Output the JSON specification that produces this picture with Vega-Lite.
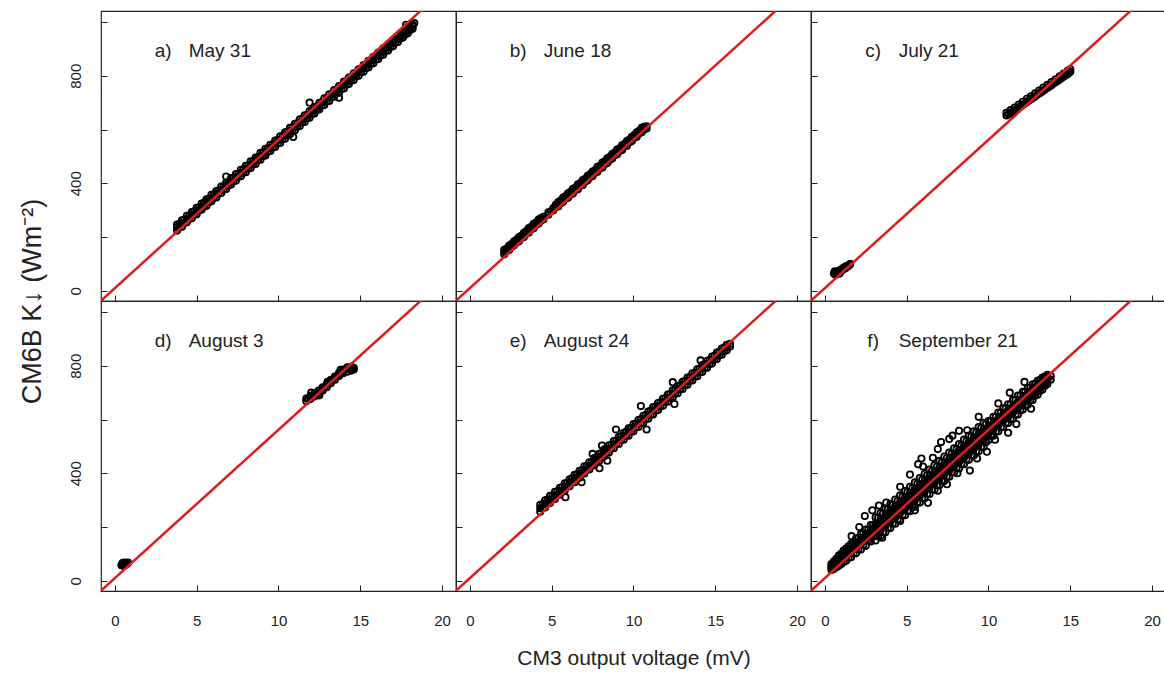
{
"$schema": "https://vega.github.io/schema/vega-lite/v6.json",
"padding": {"left": 17, "top": 10, "right": 0, "bottom": 0},
"background": "white",
"config": {
  "view": {"stroke": "#222", "strokeWidth": 1.2},
  "font": "Liberation Sans",
  "axis": {"domain": false, "grid": false, "tickSize": -6, "tickColor": "#222", "tickWidth": 1, "labelColor": "#222", "labelFont": "Liberation Sans", "labelFlush": false, "labelOverlap": false, "titleColor": "#222", "titleFontWeight": "normal"},
  "point": {"shape": "circle", "filled": false, "size": 40, "strokeWidth": 1.8, "color": "black", "opacity": 1},
  "text": {"baseline": "middle", "fontSize": 19, "color": "#222"}
},
"datasets": {
  "fit": [{"x": -1, "y": -45.2}, {"x": 21, "y": 1169.2}],
  "lab": [{"p": "a", "k": "a)", "t": "May 31"}, {"p": "b", "k": "b)", "t": "June 18"}, {"p": "c", "k": "c)", "t": "July 21"}, {"p": "d", "k": "d)", "t": "August 3"}, {"p": "e", "k": "e)", "t": "August 24"}, {"p": "f", "k": "f)", "t": "September 21"}],
  "a": [
{"x":3.8,"y":224},{"x":3.8,"y":236},{"x":3.8,"y":246},
{"x":4.1,"y":238},{"x":4.1,"y":251},{"x":4.1,"y":262},
{"x":4.4,"y":255},{"x":4.4,"y":266},{"x":4.4,"y":279},
{"x":4.7,"y":270},{"x":4.7,"y":283},{"x":4.7,"y":293},
{"x":5.0,"y":285},{"x":5.0,"y":297},{"x":5.0,"y":309},
{"x":5.3,"y":302},{"x":5.3,"y":312},{"x":5.3,"y":325},
{"x":5.6,"y":316},{"x":5.6,"y":330},{"x":5.6,"y":340},
{"x":5.9,"y":333},{"x":5.9,"y":344},{"x":5.9,"y":357},
{"x":6.2,"y":347},{"x":6.2,"y":361},{"x":6.2,"y":371},
{"x":6.5,"y":364},{"x":6.5,"y":375},{"x":6.5,"y":388},
{"x":6.8,"y":379},{"x":6.8,"y":392},{"x":6.8,"y":402},
{"x":7.1,"y":395},{"x":7.1,"y":406},{"x":7.1,"y":419},
{"x":7.4,"y":410},{"x":7.4,"y":423},{"x":7.4,"y":434},
{"x":7.7,"y":426},{"x":7.7,"y":437},{"x":7.7,"y":450},
{"x":8.0,"y":441},{"x":8.0,"y":454},{"x":8.0,"y":465},
{"x":8.3,"y":457},{"x":8.3,"y":469},{"x":8.3,"y":482},
{"x":8.6,"y":472},{"x":8.6,"y":485},{"x":8.6,"y":496},
{"x":8.9,"y":488},{"x":8.9,"y":500},{"x":8.9,"y":513},
{"x":9.2,"y":503},{"x":9.2,"y":516},{"x":9.2,"y":528},
{"x":9.5,"y":520},{"x":9.5,"y":531},{"x":9.5,"y":543},
{"x":9.8,"y":535},{"x":9.8,"y":548},{"x":9.8,"y":559},
{"x":10.1,"y":550},{"x":10.1,"y":562},{"x":10.1,"y":575},
{"x":10.4,"y":566},{"x":10.4,"y":579},{"x":10.4,"y":590},
{"x":10.7,"y":582},{"x":10.7,"y":594},{"x":10.7,"y":606},
{"x":11.0,"y":597},{"x":11.0,"y":610},{"x":11.0,"y":621},
{"x":11.3,"y":613},{"x":11.3,"y":625},{"x":11.3,"y":638},
{"x":11.6,"y":628},{"x":11.6,"y":641},{"x":11.6,"y":653},
{"x":11.9,"y":644},{"x":11.9,"y":656},{"x":11.9,"y":669},
{"x":12.2,"y":660},{"x":12.2,"y":672},{"x":12.2,"y":684},
{"x":12.5,"y":675},{"x":12.5,"y":688},{"x":12.5,"y":699},
{"x":12.8,"y":691},{"x":12.8,"y":703},{"x":12.8,"y":716},
{"x":13.1,"y":706},{"x":13.1,"y":719},{"x":13.1,"y":731},
{"x":13.4,"y":722},{"x":13.4,"y":734},{"x":13.4,"y":747},
{"x":13.7,"y":737},{"x":13.7,"y":750},{"x":13.7,"y":762},
{"x":14.0,"y":753},{"x":14.0,"y":766},{"x":14.0,"y":778},
{"x":14.3,"y":769},{"x":14.3,"y":781},{"x":14.3,"y":793},
{"x":14.6,"y":784},{"x":14.6,"y":797},{"x":14.6,"y":809},
{"x":14.9,"y":800},{"x":14.9,"y":812},{"x":14.9,"y":824},
{"x":15.2,"y":815},{"x":15.2,"y":828},{"x":15.2,"y":840},
{"x":15.5,"y":831},{"x":15.5,"y":843},{"x":15.5,"y":856},
{"x":15.8,"y":847},{"x":15.8,"y":859},{"x":15.8,"y":871},
{"x":16.1,"y":862},{"x":16.1,"y":875},{"x":16.1,"y":886},
{"x":16.4,"y":878},{"x":16.4,"y":890},{"x":16.4,"y":902},
{"x":16.7,"y":894},{"x":16.7,"y":906},{"x":16.7,"y":917},
{"x":17.0,"y":910},{"x":17.0,"y":921},{"x":17.0,"y":932},
{"x":17.3,"y":926},{"x":17.3,"y":937},{"x":17.3,"y":947},
{"x":17.6,"y":942},{"x":17.6,"y":953},{"x":17.6,"y":962},
{"x":17.9,"y":958},{"x":17.9,"y":968},{"x":17.9,"y":977},
{"x":18.2,"y":975},{"x":18.2,"y":984},{"x":18.2,"y":991},
{"x":3.95,"y":237},{"x":3.95,"y":249},{"x":4.25,"y":252},{"x":4.25,"y":265},{"x":4.55,"y":268},{"x":4.55,"y":280},
{"x":4.85,"y":283},{"x":4.85,"y":296},{"x":5.15,"y":299},{"x":5.15,"y":311},{"x":5.45,"y":314},{"x":5.45,"y":327},
{"x":5.75,"y":330},{"x":5.75,"y":342},{"x":6.05,"y":346},{"x":6.05,"y":358},{"x":6.35,"y":361},{"x":6.35,"y":374},
{"x":6.65,"y":377},{"x":6.65,"y":389},{"x":6.95,"y":393},{"x":6.95,"y":405},{"x":7.25,"y":408},{"x":7.25,"y":420},
{"x":7.55,"y":424},{"x":7.55,"y":436},{"x":7.85,"y":439},{"x":7.85,"y":452},{"x":8.15,"y":455},{"x":8.15,"y":467},
{"x":8.45,"y":471},{"x":8.45,"y":483},{"x":8.75,"y":486},{"x":8.75,"y":498},{"x":9.05,"y":502},{"x":9.05,"y":514},
{"x":9.35,"y":517},{"x":9.35,"y":530},{"x":9.65,"y":533},{"x":9.65,"y":545},{"x":9.95,"y":549},{"x":9.95,"y":561},
{"x":10.25,"y":564},{"x":10.25,"y":576},{"x":10.55,"y":580},{"x":10.55,"y":592},{"x":10.85,"y":595},{"x":10.85,"y":608},
{"x":11.15,"y":611},{"x":11.15,"y":623},{"x":11.45,"y":627},{"x":11.45,"y":639},{"x":11.75,"y":642},{"x":11.75,"y":654},
{"x":12.05,"y":658},{"x":12.05,"y":670},{"x":12.35,"y":673},{"x":12.35,"y":686},{"x":12.65,"y":689},{"x":12.65,"y":701},
{"x":12.95,"y":705},{"x":12.95,"y":717},{"x":13.25,"y":720},{"x":13.25,"y":732},{"x":13.55,"y":736},{"x":13.55,"y":748},
{"x":13.85,"y":751},{"x":13.85,"y":764},{"x":14.15,"y":767},{"x":14.15,"y":779},{"x":14.45,"y":783},{"x":14.45,"y":795},
{"x":14.75,"y":798},{"x":14.75,"y":810},{"x":15.05,"y":814},{"x":15.05,"y":826},{"x":15.35,"y":829},{"x":15.35,"y":842},
{"x":15.65,"y":845},{"x":15.65,"y":857},{"x":15.95,"y":861},{"x":15.95,"y":873},{"x":16.25,"y":876},{"x":16.25,"y":888},
{"x":16.55,"y":892},{"x":16.55,"y":904},{"x":16.85,"y":907},{"x":16.85,"y":919},{"x":17.15,"y":923},{"x":17.15,"y":935},
{"x":17.45,"y":939},{"x":17.45,"y":950},{"x":17.75,"y":954},{"x":17.75,"y":965},{"x":18.05,"y":970},{"x":18.05,"y":980},
{"x":6.8,"y":425},{"x":11.9,"y":700},{"x":13.7,"y":718},{"x":10.9,"y":572},{"x":17.8,"y":990},{"x":18.3,"y":996}
  ],
  "b": [
{"x":2.1,"y":136},{"x":2.1,"y":144},{"x":2.1,"y":152},
{"x":2.4,"y":152},{"x":2.4,"y":161},{"x":2.4,"y":168},
{"x":2.7,"y":169},{"x":2.7,"y":177},{"x":2.7,"y":184},
{"x":3.0,"y":184},{"x":3.0,"y":193},{"x":3.0,"y":200},
{"x":3.3,"y":200},{"x":3.3,"y":208},{"x":3.3,"y":216},
{"x":3.6,"y":217},{"x":3.6,"y":226},{"x":3.6,"y":233},
{"x":3.9,"y":233},{"x":3.9,"y":241},{"x":3.9,"y":249},
{"x":4.2,"y":250},{"x":4.2,"y":258},{"x":4.2,"y":265},
{"x":4.5,"y":266},{"x":4.5,"y":275},
{"x":4.8,"y":283},{"x":4.8,"y":292},
{"x":5.1,"y":300},{"x":5.1,"y":308},
{"x":5.4,"y":314},{"x":5.4,"y":323},{"x":5.4,"y":330},
{"x":5.7,"y":331},{"x":5.7,"y":339},{"x":5.7,"y":347},
{"x":6.0,"y":346},{"x":6.0,"y":355},{"x":6.0,"y":363},
{"x":6.3,"y":362},{"x":6.3,"y":371},{"x":6.3,"y":379},
{"x":6.6,"y":378},{"x":6.6,"y":388},{"x":6.6,"y":396},
{"x":6.9,"y":394},{"x":6.9,"y":404},{"x":6.9,"y":412},
{"x":7.2,"y":411},{"x":7.2,"y":420},{"x":7.2,"y":428},
{"x":7.5,"y":427},{"x":7.5,"y":436},{"x":7.5,"y":444},
{"x":7.8,"y":443},{"x":7.8,"y":452},{"x":7.8,"y":461},
{"x":8.1,"y":459},{"x":8.1,"y":469},{"x":8.1,"y":477},
{"x":8.4,"y":475},{"x":8.4,"y":485},{"x":8.4,"y":493},
{"x":8.7,"y":492},{"x":8.7,"y":501},{"x":8.7,"y":509},
{"x":9.0,"y":508},{"x":9.0,"y":517},{"x":9.0,"y":525},
{"x":9.3,"y":524},{"x":9.3,"y":533},{"x":9.3,"y":541},
{"x":9.6,"y":540},{"x":9.6,"y":550},{"x":9.6,"y":557},
{"x":9.9,"y":557},{"x":9.9,"y":566},{"x":9.9,"y":573},
{"x":10.2,"y":573},{"x":10.2,"y":582},{"x":10.2,"y":590},
{"x":10.5,"y":590},{"x":10.5,"y":598},{"x":10.5,"y":606},
{"x":10.8,"y":604},{"x":10.8,"y":612},
{"x":2.25,"y":148},{"x":2.25,"y":157},{"x":2.55,"y":164},{"x":2.55,"y":174},{"x":2.85,"y":180},{"x":2.85,"y":190},
{"x":3.15,"y":196},{"x":3.15,"y":205},{"x":3.45,"y":212},{"x":3.45,"y":222},{"x":3.75,"y":229},{"x":3.75,"y":238},
{"x":4.05,"y":245},{"x":4.05,"y":254},{"x":4.35,"y":261},{"x":4.35,"y":271},{"x":4.95,"y":296},
{"x":5.25,"y":311},{"x":5.25,"y":320},{"x":5.55,"y":326},{"x":5.55,"y":336},{"x":5.85,"y":342},{"x":5.85,"y":352},
{"x":6.15,"y":358},{"x":6.15,"y":368},{"x":6.45,"y":375},{"x":6.45,"y":384},{"x":6.75,"y":391},{"x":6.75,"y":401},
{"x":7.05,"y":407},{"x":7.05,"y":417},{"x":7.35,"y":423},{"x":7.35,"y":433},{"x":7.65,"y":439},{"x":7.65,"y":449},
{"x":7.95,"y":456},{"x":7.95,"y":465},{"x":8.25,"y":472},{"x":8.25,"y":482},{"x":8.55,"y":488},{"x":8.55,"y":498},
{"x":8.85,"y":504},{"x":8.85,"y":514},{"x":9.15,"y":520},{"x":9.15,"y":530},{"x":9.45,"y":537},{"x":9.45,"y":546},
{"x":9.75,"y":553},{"x":9.75,"y":563},{"x":10.05,"y":569},{"x":10.05,"y":579},{"x":10.35,"y":585},{"x":10.35,"y":595},
{"x":10.65,"y":600},{"x":10.65,"y":610}
  ],
  "c": [
{"x":0.55,"y":64},{"x":0.65,"y":60},{"x":0.7,"y":70},{"x":0.8,"y":66},{"x":0.85,"y":74},{"x":0.95,"y":72},{"x":1.0,"y":80},{"x":1.1,"y":78},{"x":1.15,"y":86},{"x":1.25,"y":84},{"x":1.3,"y":92},{"x":1.4,"y":90},{"x":1.5,"y":96},{"x":1.55,"y":100},{"x":0.6,"y":72},{"x":0.9,"y":64},
{"x":11.1,"y":652},{"x":11.1,"y":662},
{"x":11.35,"y":661},{"x":11.35,"y":672},
{"x":11.6,"y":671},{"x":11.6,"y":682},
{"x":11.85,"y":681},{"x":11.85,"y":693},
{"x":12.1,"y":692},{"x":12.1,"y":703},
{"x":12.35,"y":702},{"x":12.35,"y":714},
{"x":12.6,"y":713},{"x":12.6,"y":724},
{"x":12.85,"y":723},{"x":12.85,"y":735},
{"x":13.1,"y":734},{"x":13.1,"y":745},
{"x":13.35,"y":744},{"x":13.35,"y":756},
{"x":13.6,"y":755},{"x":13.6,"y":766},
{"x":13.85,"y":765},{"x":13.85,"y":777},
{"x":14.1,"y":776},{"x":14.1,"y":787},
{"x":14.35,"y":786},{"x":14.35,"y":798},
{"x":14.6,"y":797},{"x":14.6,"y":808},
{"x":14.85,"y":807},{"x":14.85,"y":819},
{"x":15.0,"y":815},{"x":15.0,"y":824},
{"x":11.22,"y":657},{"x":11.47,"y":666},{"x":11.72,"y":676},{"x":11.97,"y":687},{"x":12.22,"y":697},{"x":12.47,"y":708},{"x":12.72,"y":718},{"x":12.97,"y":729},{"x":13.22,"y":739},{"x":13.47,"y":750},{"x":13.72,"y":760},{"x":13.97,"y":771},{"x":14.22,"y":781},{"x":14.47,"y":792},{"x":14.72,"y":802},{"x":14.92,"y":812}
  ],
  "d": [
{"x":0.4,"y":58},{"x":0.45,"y":64},{"x":0.5,"y":56},{"x":0.55,"y":62},{"x":0.6,"y":68},{"x":0.65,"y":60},{"x":0.7,"y":66},{"x":0.75,"y":63},{"x":0.5,"y":67},{"x":0.8,"y":68},
{"x":11.7,"y":668},{"x":11.7,"y":678},
{"x":11.95,"y":676},{"x":11.95,"y":688},
{"x":12.2,"y":686},{"x":12.2,"y":698},
{"x":12.45,"y":696},{"x":12.45,"y":708},
{"x":12.7,"y":708},{"x":12.7,"y":720},
{"x":12.95,"y":720},{"x":12.95,"y":732},
{"x":13.2,"y":735},{"x":13.2,"y":748},
{"x":13.45,"y":748},{"x":13.45,"y":760},
{"x":13.7,"y":762},{"x":13.7,"y":774},
{"x":13.95,"y":772},{"x":13.95,"y":786},
{"x":14.2,"y":778},{"x":14.2,"y":794},
{"x":14.45,"y":782},{"x":14.45,"y":796},
{"x":14.6,"y":786},{"x":14.6,"y":792},
{"x":11.82,"y":677},{"x":12.07,"y":687},{"x":12.32,"y":697},{"x":12.57,"y":708},{"x":12.82,"y":720},{"x":13.07,"y":733},{"x":13.32,"y":748},{"x":13.57,"y":761},{"x":13.82,"y":775},{"x":14.07,"y":785},{"x":14.32,"y":790},{"x":14.52,"y":791},
{"x":12.0,"y":700},{"x":12.5,"y":690},{"x":13.0,"y":740},{"x":13.8,"y":785}
  ],
  "e": [
{"x":4.3,"y":257},{"x":4.3,"y":270},{"x":4.3,"y":283},
{"x":4.6,"y":273},{"x":4.6,"y":287},{"x":4.6,"y":299},
{"x":4.9,"y":289},{"x":4.9,"y":302},{"x":4.9,"y":316},
{"x":5.2,"y":304},{"x":5.2,"y":318},{"x":5.2,"y":331},
{"x":5.5,"y":320},{"x":5.5,"y":334},{"x":5.5,"y":346},
{"x":5.8,"y":336},{"x":5.8,"y":350},{"x":5.8,"y":363},
{"x":6.1,"y":352},{"x":6.1,"y":366},{"x":6.1,"y":378},
{"x":6.4,"y":367},{"x":6.4,"y":381},{"x":6.4,"y":394},
{"x":6.7,"y":383},{"x":6.7,"y":397},{"x":6.7,"y":409},
{"x":7.0,"y":399},{"x":7.0,"y":413},{"x":7.0,"y":426},
{"x":7.3,"y":414},{"x":7.3,"y":428},{"x":7.3,"y":441},
{"x":7.6,"y":430},{"x":7.6,"y":444},{"x":7.6,"y":457},
{"x":7.9,"y":446},{"x":7.9,"y":460},{"x":7.9,"y":472},
{"x":8.2,"y":462},{"x":8.2,"y":476},{"x":8.2,"y":488},
{"x":8.5,"y":477},{"x":8.5,"y":491},{"x":8.5,"y":504},
{"x":8.8,"y":493},{"x":8.8,"y":507},{"x":8.8,"y":520},
{"x":9.1,"y":509},{"x":9.1,"y":523},{"x":9.1,"y":535},
{"x":9.4,"y":525},{"x":9.4,"y":539},{"x":9.4,"y":551},
{"x":9.7,"y":540},{"x":9.7,"y":554},{"x":9.7,"y":567},
{"x":10.0,"y":556},{"x":10.0,"y":570},{"x":10.0,"y":583},
{"x":10.3,"y":572},{"x":10.3,"y":586},{"x":10.3,"y":598},
{"x":10.6,"y":588},{"x":10.6,"y":602},{"x":10.6,"y":614},
{"x":10.9,"y":603},{"x":10.9,"y":617},{"x":10.9,"y":630},
{"x":11.2,"y":619},{"x":11.2,"y":633},{"x":11.2,"y":646},
{"x":11.5,"y":635},{"x":11.5,"y":649},{"x":11.5,"y":661},
{"x":11.8,"y":651},{"x":11.8,"y":665},{"x":11.8,"y":677},
{"x":12.1,"y":666},{"x":12.1,"y":680},{"x":12.1,"y":693},
{"x":12.4,"y":682},{"x":12.4,"y":696},{"x":12.4,"y":709},
{"x":12.7,"y":698},{"x":12.7,"y":712},{"x":12.7,"y":724},
{"x":13.0,"y":714},{"x":13.0,"y":728},{"x":13.0,"y":740},
{"x":13.3,"y":729},{"x":13.3,"y":743},{"x":13.3,"y":756},
{"x":13.6,"y":745},{"x":13.6,"y":759},{"x":13.6,"y":772},
{"x":13.9,"y":761},{"x":13.9,"y":775},{"x":13.9,"y":787},
{"x":14.2,"y":777},{"x":14.2,"y":791},{"x":14.2,"y":803},
{"x":14.5,"y":793},{"x":14.5,"y":806},{"x":14.5,"y":818},
{"x":14.8,"y":808},{"x":14.8,"y":822},{"x":14.8,"y":834},
{"x":15.1,"y":825},{"x":15.1,"y":838},{"x":15.1,"y":849},
{"x":15.4,"y":841},{"x":15.4,"y":853},{"x":15.4,"y":864},
{"x":15.7,"y":858},{"x":15.7,"y":869},{"x":15.7,"y":878},
{"x":15.9,"y":872},{"x":15.9,"y":882},
{"x":4.45,"y":271},{"x":4.45,"y":285},{"x":4.75,"y":288},{"x":4.75,"y":302},{"x":5.05,"y":303},{"x":5.05,"y":317},
{"x":5.35,"y":319},{"x":5.35,"y":333},{"x":5.65,"y":335},{"x":5.65,"y":349},{"x":5.95,"y":351},{"x":5.95,"y":365},
{"x":6.25,"y":367},{"x":6.25,"y":381},{"x":6.55,"y":382},{"x":6.55,"y":396},{"x":6.85,"y":398},{"x":6.85,"y":412},
{"x":7.15,"y":414},{"x":7.15,"y":428},{"x":7.45,"y":429},{"x":7.45,"y":443},{"x":7.75,"y":445},{"x":7.75,"y":459},
{"x":8.05,"y":461},{"x":8.05,"y":475},{"x":8.35,"y":477},{"x":8.35,"y":491},{"x":8.65,"y":492},{"x":8.65,"y":506},
{"x":8.95,"y":508},{"x":8.95,"y":522},{"x":9.25,"y":524},{"x":9.25,"y":538},{"x":9.55,"y":540},{"x":9.55,"y":554},
{"x":9.85,"y":555},{"x":9.85,"y":569},{"x":10.15,"y":571},{"x":10.15,"y":585},{"x":10.45,"y":587},{"x":10.45,"y":601},
{"x":10.75,"y":603},{"x":10.75,"y":617},{"x":11.05,"y":618},{"x":11.05,"y":632},{"x":11.35,"y":634},{"x":11.35,"y":648},
{"x":11.65,"y":650},{"x":11.65,"y":664},{"x":11.95,"y":666},{"x":11.95,"y":680},{"x":12.25,"y":681},{"x":12.25,"y":695},
{"x":12.55,"y":697},{"x":12.55,"y":711},{"x":12.85,"y":713},{"x":12.85,"y":727},{"x":13.15,"y":729},{"x":13.15,"y":743},
{"x":13.45,"y":744},{"x":13.45,"y":758},{"x":13.75,"y":760},{"x":13.75,"y":774},{"x":14.05,"y":776},{"x":14.05,"y":790},
{"x":14.35,"y":792},{"x":14.35,"y":806},{"x":14.65,"y":807},{"x":14.65,"y":821},{"x":14.95,"y":823},{"x":14.95,"y":837},
{"x":15.25,"y":839},{"x":15.25,"y":853},{"x":15.55,"y":854},{"x":15.55,"y":868},
{"x":5.84,"y":311},{"x":6.83,"y":367},{"x":7.92,"y":419},{"x":8.07,"y":503},{"x":8.93,"y":563},{"x":10.8,"y":563},{"x":10.45,"y":650},{"x":12.5,"y":658},{"x":12.4,"y":739},{"x":14.1,"y":820},{"x":8.4,"y":447},{"x":7.5,"y":472}
  ],
  "f": [
{"x":0.4,"y":40},{"x":0.4,"y":48},{"x":0.4,"y":56},{"x":0.4,"y":62},
{"x":0.7,"y":50},{"x":0.7,"y":61},{"x":0.7,"y":72},{"x":0.7,"y":82},
{"x":1.0,"y":62},{"x":1.0,"y":76},{"x":1.0,"y":89},{"x":1.0,"y":101},
{"x":1.3,"y":75},{"x":1.3,"y":91},{"x":1.3,"y":105},{"x":1.3,"y":120},
{"x":1.6,"y":88},{"x":1.6,"y":106},{"x":1.6,"y":121},{"x":1.6,"y":138},
{"x":1.9,"y":102},{"x":1.9,"y":121},{"x":1.9,"y":138},{"x":1.9,"y":157},
{"x":2.2,"y":116},{"x":2.2,"y":136},{"x":2.2,"y":154},{"x":2.2,"y":174},
{"x":2.5,"y":130},{"x":2.5,"y":151},{"x":2.5,"y":170},{"x":2.5,"y":191},
{"x":2.8,"y":146},{"x":2.8,"y":166},{"x":2.8,"y":187},{"x":2.8,"y":207},
{"x":1.0,"y":83},{"x":1.3,"y":98},{"x":1.6,"y":114},{"x":1.9,"y":130},{"x":2.2,"y":145},{"x":2.5,"y":161},{"x":2.8,"y":177},
{"x":3.1,"y":150},{"x":3.1,"y":172},{"x":3.1,"y":193},{"x":3.1,"y":213},{"x":3.1,"y":236},
{"x":3.4,"y":166},{"x":3.4,"y":188},{"x":3.4,"y":209},{"x":3.4,"y":229},{"x":3.4,"y":252},
{"x":3.7,"y":181},{"x":3.7,"y":204},{"x":3.7,"y":225},{"x":3.7,"y":246},{"x":3.7,"y":268},
{"x":4.0,"y":196},{"x":4.0,"y":220},{"x":4.0,"y":241},{"x":4.0,"y":262},{"x":4.0,"y":286},
{"x":4.3,"y":212},{"x":4.3,"y":236},{"x":4.3,"y":257},{"x":4.3,"y":278},{"x":4.3,"y":302},
{"x":4.6,"y":228},{"x":4.6,"y":252},{"x":4.6,"y":273},{"x":4.6,"y":294},{"x":4.6,"y":318},
{"x":4.9,"y":244},{"x":4.9,"y":268},{"x":4.9,"y":289},{"x":4.9,"y":310},{"x":4.9,"y":334},
{"x":5.2,"y":259},{"x":5.2,"y":283},{"x":5.2,"y":304},{"x":5.2,"y":326},{"x":5.2,"y":350},
{"x":5.5,"y":275},{"x":5.5,"y":299},{"x":5.5,"y":320},{"x":5.5,"y":342},{"x":5.5,"y":366},
{"x":5.8,"y":291},{"x":5.8,"y":315},{"x":5.8,"y":336},{"x":5.8,"y":358},{"x":5.8,"y":382},
{"x":6.1,"y":307},{"x":6.1,"y":331},{"x":6.1,"y":352},{"x":6.1,"y":374},{"x":6.1,"y":398},
{"x":6.4,"y":323},{"x":6.4,"y":347},{"x":6.4,"y":368},{"x":6.4,"y":390},{"x":6.4,"y":414},
{"x":6.7,"y":339},{"x":6.7,"y":363},{"x":6.7,"y":384},{"x":6.7,"y":406},{"x":6.7,"y":430},
{"x":7.0,"y":355},{"x":7.0,"y":379},{"x":7.0,"y":400},{"x":7.0,"y":421},{"x":7.0,"y":446},
{"x":7.3,"y":371},{"x":7.3,"y":395},{"x":7.3,"y":416},{"x":7.3,"y":437},{"x":7.3,"y":462},
{"x":7.6,"y":387},{"x":7.6,"y":411},{"x":7.6,"y":432},{"x":7.6,"y":453},{"x":7.6,"y":477},
{"x":7.9,"y":403},{"x":7.9,"y":427},{"x":7.9,"y":448},{"x":7.9,"y":469},{"x":7.9,"y":493},
{"x":8.2,"y":418},{"x":8.2,"y":442},{"x":8.2,"y":463},{"x":8.2,"y":485},{"x":8.2,"y":509},
{"x":8.5,"y":434},{"x":8.5,"y":458},{"x":8.5,"y":479},{"x":8.5,"y":501},{"x":8.5,"y":525},
{"x":8.8,"y":450},{"x":8.8,"y":474},{"x":8.8,"y":495},{"x":8.8,"y":517},{"x":8.8,"y":540},
{"x":9.1,"y":466},{"x":9.1,"y":490},{"x":9.1,"y":511},{"x":9.1,"y":532},{"x":9.1,"y":556},
{"x":9.4,"y":482},{"x":9.4,"y":506},{"x":9.4,"y":527},{"x":9.4,"y":548},{"x":9.4,"y":572},
{"x":9.7,"y":498},{"x":9.7,"y":522},{"x":9.7,"y":543},{"x":9.7,"y":564},{"x":9.7,"y":588},
{"x":3.1,"y":183},{"x":3.1,"y":203},{"x":3.4,"y":199},{"x":3.4,"y":219},{"x":3.7,"y":215},{"x":3.7,"y":235},
{"x":4.0,"y":231},{"x":4.0,"y":251},{"x":4.3,"y":247},{"x":4.3,"y":267},{"x":4.6,"y":263},{"x":4.6,"y":283},
{"x":4.9,"y":279},{"x":4.9,"y":299},{"x":5.2,"y":294},{"x":5.2,"y":314},{"x":5.5,"y":310},{"x":5.5,"y":330},
{"x":5.8,"y":326},{"x":5.8,"y":346},{"x":6.1,"y":342},{"x":6.1,"y":362},{"x":6.4,"y":358},{"x":6.4,"y":378},
{"x":6.7,"y":374},{"x":6.7,"y":394},{"x":7.0,"y":390},{"x":7.0,"y":410},{"x":7.3,"y":406},{"x":7.3,"y":426},
{"x":7.6,"y":422},{"x":7.6,"y":442},{"x":7.9,"y":438},{"x":7.9,"y":458},{"x":8.2,"y":453},{"x":8.2,"y":473},
{"x":8.5,"y":469},{"x":8.5,"y":489},{"x":8.8,"y":485},{"x":8.8,"y":505},{"x":9.1,"y":501},{"x":9.1,"y":521},
{"x":9.4,"y":517},{"x":9.4,"y":537},{"x":9.7,"y":533},{"x":9.7,"y":553},
{"x":10.0,"y":524},{"x":10.0,"y":547},{"x":10.0,"y":559},{"x":10.0,"y":571},{"x":10.0,"y":594},
{"x":10.3,"y":540},{"x":10.3,"y":563},{"x":10.3,"y":575},{"x":10.3,"y":587},{"x":10.3,"y":610},
{"x":10.6,"y":556},{"x":10.6,"y":579},{"x":10.6,"y":591},{"x":10.6,"y":603},{"x":10.6,"y":626},
{"x":10.9,"y":572},{"x":10.9,"y":595},{"x":10.9,"y":607},{"x":10.9,"y":619},{"x":10.9,"y":642},
{"x":11.2,"y":587},{"x":11.2,"y":610},{"x":11.2,"y":622},{"x":11.2,"y":634},{"x":11.2,"y":657},
{"x":11.5,"y":603},{"x":11.5,"y":626},{"x":11.5,"y":638},{"x":11.5,"y":650},{"x":11.5,"y":673},
{"x":11.8,"y":619},{"x":11.8,"y":642},{"x":11.8,"y":654},{"x":11.8,"y":666},{"x":11.8,"y":689},
{"x":12.1,"y":637},{"x":12.1,"y":658},{"x":12.1,"y":670},{"x":12.1,"y":682},{"x":12.1,"y":703},
{"x":12.4,"y":655},{"x":12.4,"y":674},{"x":12.4,"y":686},{"x":12.4,"y":698},{"x":12.4,"y":717},
{"x":12.7,"y":673},{"x":12.7,"y":690},{"x":12.7,"y":702},{"x":12.7,"y":714},{"x":12.7,"y":731},
{"x":13.0,"y":692},{"x":13.0,"y":707},{"x":13.0,"y":718},{"x":13.0,"y":729},{"x":13.0,"y":744},
{"x":13.3,"y":712},{"x":13.3,"y":724},{"x":13.3,"y":734},{"x":13.3,"y":744},{"x":13.3,"y":756},
{"x":13.6,"y":732},{"x":13.6,"y":743},{"x":13.6,"y":750},{"x":13.6,"y":757},{"x":13.6,"y":766},
{"x":13.8,"y":748},{"x":13.8,"y":762},
{"x":0.55,"y":44},{"x":0.55,"y":53},{"x":0.55,"y":64},{"x":0.55,"y":72},
{"x":0.85,"y":56},{"x":0.85,"y":69},{"x":0.85,"y":82},{"x":0.85,"y":94},
{"x":1.15,"y":70},{"x":1.15,"y":85},{"x":1.15,"y":98},{"x":1.15,"y":112},
{"x":1.45,"y":86},{"x":1.45,"y":101},{"x":1.45,"y":114},{"x":1.45,"y":128},
{"x":1.75,"y":102},{"x":1.75,"y":117},{"x":1.75,"y":130},{"x":1.75,"y":144},
{"x":2.05,"y":118},{"x":2.05,"y":133},{"x":2.05,"y":146},{"x":2.05,"y":160},
{"x":2.35,"y":133},{"x":2.35,"y":148},{"x":2.35,"y":161},{"x":2.35,"y":175},
{"x":2.65,"y":149},{"x":2.65,"y":164},{"x":2.65,"y":177},{"x":2.65,"y":191},
{"x":2.95,"y":165},{"x":2.95,"y":180},{"x":2.95,"y":193},{"x":2.95,"y":207},
{"x":3.25,"y":165},{"x":3.25,"y":188},{"x":3.25,"y":210},{"x":3.25,"y":234},
{"x":3.55,"y":181},{"x":3.55,"y":204},{"x":3.55,"y":226},{"x":3.55,"y":250},
{"x":3.85,"y":197},{"x":3.85,"y":220},{"x":3.85,"y":242},{"x":3.85,"y":266},
{"x":4.15,"y":213},{"x":4.15,"y":236},{"x":4.15,"y":258},{"x":4.15,"y":282},
{"x":4.45,"y":229},{"x":4.45,"y":252},{"x":4.45,"y":274},{"x":4.45,"y":298},
{"x":4.75,"y":245},{"x":4.75,"y":268},{"x":4.75,"y":290},{"x":4.75,"y":314},
{"x":5.05,"y":261},{"x":5.05,"y":284},{"x":5.05,"y":306},{"x":5.05,"y":330},
{"x":5.35,"y":276},{"x":5.35,"y":299},{"x":5.35,"y":321},{"x":5.35,"y":345},
{"x":5.65,"y":292},{"x":5.65,"y":315},{"x":5.65,"y":337},{"x":5.65,"y":361},
{"x":5.95,"y":308},{"x":5.95,"y":331},{"x":5.95,"y":353},{"x":5.95,"y":377},
{"x":6.25,"y":324},{"x":6.25,"y":347},{"x":6.25,"y":369},{"x":6.25,"y":393},
{"x":6.55,"y":340},{"x":6.55,"y":363},{"x":6.55,"y":385},{"x":6.55,"y":409},
{"x":6.85,"y":356},{"x":6.85,"y":379},{"x":6.85,"y":401},{"x":6.85,"y":425},
{"x":7.15,"y":372},{"x":7.15,"y":395},{"x":7.15,"y":417},{"x":7.15,"y":441},
{"x":7.45,"y":388},{"x":7.45,"y":411},{"x":7.45,"y":433},{"x":7.45,"y":457},
{"x":7.75,"y":404},{"x":7.75,"y":427},{"x":7.75,"y":449},{"x":7.75,"y":473},
{"x":8.05,"y":420},{"x":8.05,"y":443},{"x":8.05,"y":465},{"x":8.05,"y":489},
{"x":8.35,"y":435},{"x":8.35,"y":458},{"x":8.35,"y":480},{"x":8.35,"y":504},
{"x":8.65,"y":451},{"x":8.65,"y":474},{"x":8.65,"y":496},{"x":8.65,"y":520},
{"x":8.95,"y":467},{"x":8.95,"y":490},{"x":8.95,"y":512},{"x":8.95,"y":536},
{"x":9.25,"y":483},{"x":9.25,"y":506},{"x":9.25,"y":528},{"x":9.25,"y":552},
{"x":9.55,"y":499},{"x":9.55,"y":522},{"x":9.55,"y":544},{"x":9.55,"y":568},
{"x":9.85,"y":515},{"x":9.85,"y":538},{"x":9.85,"y":560},{"x":9.85,"y":584},
{"x":10.15,"y":539},{"x":10.15,"y":558},{"x":10.15,"y":577},{"x":10.15,"y":594},
{"x":10.45,"y":555},{"x":10.45,"y":574},{"x":10.45,"y":593},{"x":10.45,"y":610},
{"x":10.75,"y":571},{"x":10.75,"y":590},{"x":10.75,"y":609},{"x":10.75,"y":626},
{"x":11.05,"y":587},{"x":11.05,"y":606},{"x":11.05,"y":625},{"x":11.05,"y":642},
{"x":11.35,"y":602},{"x":11.35,"y":621},{"x":11.35,"y":640},{"x":11.35,"y":657},
{"x":11.65,"y":618},{"x":11.65,"y":637},{"x":11.65,"y":656},{"x":11.65,"y":673},
{"x":11.95,"y":634},{"x":11.95,"y":653},{"x":11.95,"y":672},{"x":11.95,"y":689},
{"x":12.25,"y":652},{"x":12.25,"y":669},{"x":12.25,"y":688},{"x":12.25,"y":703},
{"x":12.55,"y":670},{"x":12.55,"y":685},{"x":12.55,"y":704},{"x":12.55,"y":718},
{"x":12.85,"y":688},{"x":12.85,"y":701},{"x":12.85,"y":720},{"x":12.85,"y":733},
{"x":13.15,"y":706},{"x":13.15,"y":718},{"x":13.15,"y":735},{"x":13.15,"y":748},
{"x":13.45,"y":726},{"x":13.45,"y":736},{"x":13.45,"y":750},{"x":13.45,"y":760},
{"x":1.63,"y":166},{"x":2.44,"y":241},{"x":3.75,"y":291},{"x":5.7,"y":434},{"x":7.1,"y":516},{"x":8.2,"y":558},{"x":6.0,"y":425},{"x":6.6,"y":458},{"x":7.6,"y":528},{"x":8.7,"y":560},{"x":5.2,"y":395},{"x":4.6,"y":350},{"x":6.9,"y":490},{"x":9.4,"y":610},{"x":10.6,"y":660},{"x":11.3,"y":700},{"x":12.2,"y":740},{"x":2.9,"y":262},{"x":2.1,"y":200},{"x":3.3,"y":280},{"x":5.9,"y":455},{"x":7.8,"y":540},
{"x":8.86,"y":410},{"x":7.46,"y":359},{"x":4.6,"y":222},{"x":11.2,"y":551},{"x":11.7,"y":583},{"x":6.3,"y":290},{"x":9.9,"y":480},{"x":10.4,"y":525},{"x":5.5,"y":262},{"x":12.6,"y":640},{"x":3.5,"y":160},{"x":8.1,"y":400},{"x":9.3,"y":455},{"x":6.9,"y":335}
  ]
},
"columns": 3,
"spacing": 0,
"bounds": "flush",
"concat": [
  {
    "width": 355, "height": 290,
    "layer": [
      {"data": {"name": "a"}, "mark": "point", "encoding": {
        "x": {"field": "x", "type": "quantitative", "scale": {"domain": [-0.85, 20.85], "nice": false, "zero": false}, "axis": {"values": [0, 5, 10, 15, 20], "labels": false, "title": null}},
        "y": {"field": "y", "type": "quantitative", "scale": {"domain": [-38, 1041], "nice": false, "zero": false}, "axis": {"values": [0, 200, 400, 600, 800, 1000], "labelExpr": "datum.value % 400 === 0 ? datum.label : ''", "labelAngle": -90, "labelAlign": "center", "labelBaseline": "bottom", "labelPadding": 24, "labelFontSize": 15, "title": null}}}},
      {"data": {"name": "fit"}, "mark": {"type": "line", "color": "#e01b1b", "strokeWidth": 2.5, "clip": true}, "encoding": {"x": {"field": "x", "type": "quantitative"}, "y": {"field": "y", "type": "quantitative"}}},
      {"data": {"name": "lab"}, "transform": [{"filter": "datum.p == 'a'"}], "mark": {"type": "text", "align": "center"}, "encoding": {"x": {"datum": 2.95, "type": "quantitative"}, "y": {"datum": 893, "type": "quantitative"}, "text": {"field": "k", "type": "nominal"}}},
      {"data": {"name": "lab"}, "transform": [{"filter": "datum.p == 'a'"}], "mark": {"type": "text", "align": "left"}, "encoding": {"x": {"datum": 4.51, "type": "quantitative"}, "y": {"datum": 893, "type": "quantitative"}, "text": {"field": "t", "type": "nominal"}}}
    ]
  },
  {
    "width": 355, "height": 290,
    "layer": [
      {"data": {"name": "b"}, "mark": "point", "encoding": {
        "x": {"field": "x", "type": "quantitative", "scale": {"domain": [-0.85, 20.85], "nice": false, "zero": false}, "axis": {"values": [0, 5, 10, 15, 20], "labels": false, "title": null}},
        "y": {"field": "y", "type": "quantitative", "scale": {"domain": [-38, 1041], "nice": false, "zero": false}, "axis": {"values": [0, 200, 400, 600, 800, 1000], "labels": false, "title": null}}}},
      {"data": {"name": "fit"}, "mark": {"type": "line", "color": "#e01b1b", "strokeWidth": 2.5, "clip": true}, "encoding": {"x": {"field": "x", "type": "quantitative"}, "y": {"field": "y", "type": "quantitative"}}},
      {"data": {"name": "lab"}, "transform": [{"filter": "datum.p == 'b'"}], "mark": {"type": "text", "align": "center"}, "encoding": {"x": {"datum": 2.95, "type": "quantitative"}, "y": {"datum": 893, "type": "quantitative"}, "text": {"field": "k", "type": "nominal"}}},
      {"data": {"name": "lab"}, "transform": [{"filter": "datum.p == 'b'"}], "mark": {"type": "text", "align": "left"}, "encoding": {"x": {"datum": 4.51, "type": "quantitative"}, "y": {"datum": 893, "type": "quantitative"}, "text": {"field": "t", "type": "nominal"}}}
    ]
  },
  {
    "width": 355, "height": 290,
    "layer": [
      {"data": {"name": "c"}, "mark": "point", "encoding": {
        "x": {"field": "x", "type": "quantitative", "scale": {"domain": [-0.85, 20.85], "nice": false, "zero": false}, "axis": {"values": [0, 5, 10, 15, 20], "labels": false, "title": null}},
        "y": {"field": "y", "type": "quantitative", "scale": {"domain": [-38, 1041], "nice": false, "zero": false}, "axis": {"values": [0, 200, 400, 600, 800, 1000], "labels": false, "title": null}}}},
      {"data": {"name": "fit"}, "mark": {"type": "line", "color": "#e01b1b", "strokeWidth": 2.5, "clip": true}, "encoding": {"x": {"field": "x", "type": "quantitative"}, "y": {"field": "y", "type": "quantitative"}}},
      {"data": {"name": "lab"}, "transform": [{"filter": "datum.p == 'c'"}], "mark": {"type": "text", "align": "center"}, "encoding": {"x": {"datum": 2.95, "type": "quantitative"}, "y": {"datum": 893, "type": "quantitative"}, "text": {"field": "k", "type": "nominal"}}},
      {"data": {"name": "lab"}, "transform": [{"filter": "datum.p == 'c'"}], "mark": {"type": "text", "align": "left"}, "encoding": {"x": {"datum": 4.51, "type": "quantitative"}, "y": {"datum": 893, "type": "quantitative"}, "text": {"field": "t", "type": "nominal"}}}
    ]
  },
  {
    "width": 355, "height": 290,
    "layer": [
      {"data": {"name": "d"}, "mark": "point", "encoding": {
        "x": {"field": "x", "type": "quantitative", "scale": {"domain": [-0.85, 20.85], "nice": false, "zero": false}, "axis": {"values": [0, 5, 10, 15, 20], "labelPadding": 28, "labelFontSize": 15, "labelBaseline": "top", "title": null}},
        "y": {"field": "y", "type": "quantitative", "scale": {"domain": [-38, 1041], "nice": false, "zero": false}, "axis": {"values": [0, 200, 400, 600, 800, 1000], "labelExpr": "datum.value % 400 === 0 ? datum.label : ''", "labelAngle": -90, "labelAlign": "center", "labelBaseline": "bottom", "labelPadding": 24, "labelFontSize": 15, "title": "CM6B  K\u2193 (Wm\u207b\u00b2)", "titleX": -69, "titleY": 0, "titleAngle": -90, "titleAlign": "center", "titleBaseline": "middle", "titleFontSize": 27, "titleFont": "Liberation Sans"}}}},
      {"data": {"name": "fit"}, "mark": {"type": "line", "color": "#e01b1b", "strokeWidth": 2.5, "clip": true}, "encoding": {"x": {"field": "x", "type": "quantitative"}, "y": {"field": "y", "type": "quantitative"}}},
      {"data": {"name": "lab"}, "transform": [{"filter": "datum.p == 'd'"}], "mark": {"type": "text", "align": "center"}, "encoding": {"x": {"datum": 2.95, "type": "quantitative"}, "y": {"datum": 893, "type": "quantitative"}, "text": {"field": "k", "type": "nominal"}}},
      {"data": {"name": "lab"}, "transform": [{"filter": "datum.p == 'd'"}], "mark": {"type": "text", "align": "left"}, "encoding": {"x": {"datum": 4.51, "type": "quantitative"}, "y": {"datum": 893, "type": "quantitative"}, "text": {"field": "t", "type": "nominal"}}}
    ]
  },
  {
    "width": 355, "height": 290,
    "layer": [
      {"data": {"name": "e"}, "mark": "point", "encoding": {
        "x": {"field": "x", "type": "quantitative", "scale": {"domain": [-0.85, 20.85], "nice": false, "zero": false}, "axis": {"values": [0, 5, 10, 15, 20], "labelPadding": 28, "labelFontSize": 15, "labelBaseline": "top", "title": "CM3 output voltage (mV)", "titleY": 67, "titleBaseline": "middle", "titleFontSize": 21, "titleFont": "Liberation Sans"}},
        "y": {"field": "y", "type": "quantitative", "scale": {"domain": [-38, 1041], "nice": false, "zero": false}, "axis": {"values": [0, 200, 400, 600, 800, 1000], "labels": false, "title": null}}}},
      {"data": {"name": "fit"}, "mark": {"type": "line", "color": "#e01b1b", "strokeWidth": 2.5, "clip": true}, "encoding": {"x": {"field": "x", "type": "quantitative"}, "y": {"field": "y", "type": "quantitative"}}},
      {"data": {"name": "lab"}, "transform": [{"filter": "datum.p == 'e'"}], "mark": {"type": "text", "align": "center"}, "encoding": {"x": {"datum": 2.95, "type": "quantitative"}, "y": {"datum": 893, "type": "quantitative"}, "text": {"field": "k", "type": "nominal"}}},
      {"data": {"name": "lab"}, "transform": [{"filter": "datum.p == 'e'"}], "mark": {"type": "text", "align": "left"}, "encoding": {"x": {"datum": 4.51, "type": "quantitative"}, "y": {"datum": 893, "type": "quantitative"}, "text": {"field": "t", "type": "nominal"}}}
    ]
  },
  {
    "width": 355, "height": 290,
    "layer": [
      {"data": {"name": "f"}, "mark": "point", "encoding": {
        "x": {"field": "x", "type": "quantitative", "scale": {"domain": [-0.85, 20.85], "nice": false, "zero": false}, "axis": {"values": [0, 5, 10, 15, 20], "labelPadding": 28, "labelFontSize": 15, "labelBaseline": "top", "title": null}},
        "y": {"field": "y", "type": "quantitative", "scale": {"domain": [-38, 1041], "nice": false, "zero": false}, "axis": {"values": [0, 200, 400, 600, 800, 1000], "labels": false, "title": null}}}},
      {"data": {"name": "fit"}, "mark": {"type": "line", "color": "#e01b1b", "strokeWidth": 2.5, "clip": true}, "encoding": {"x": {"field": "x", "type": "quantitative"}, "y": {"field": "y", "type": "quantitative"}}},
      {"data": {"name": "lab"}, "transform": [{"filter": "datum.p == 'f'"}], "mark": {"type": "text", "align": "center"}, "encoding": {"x": {"datum": 2.95, "type": "quantitative"}, "y": {"datum": 893, "type": "quantitative"}, "text": {"field": "k", "type": "nominal"}}},
      {"data": {"name": "lab"}, "transform": [{"filter": "datum.p == 'f'"}], "mark": {"type": "text", "align": "left"}, "encoding": {"x": {"datum": 4.51, "type": "quantitative"}, "y": {"datum": 893, "type": "quantitative"}, "text": {"field": "t", "type": "nominal"}}}
    ]
  }
]
}
